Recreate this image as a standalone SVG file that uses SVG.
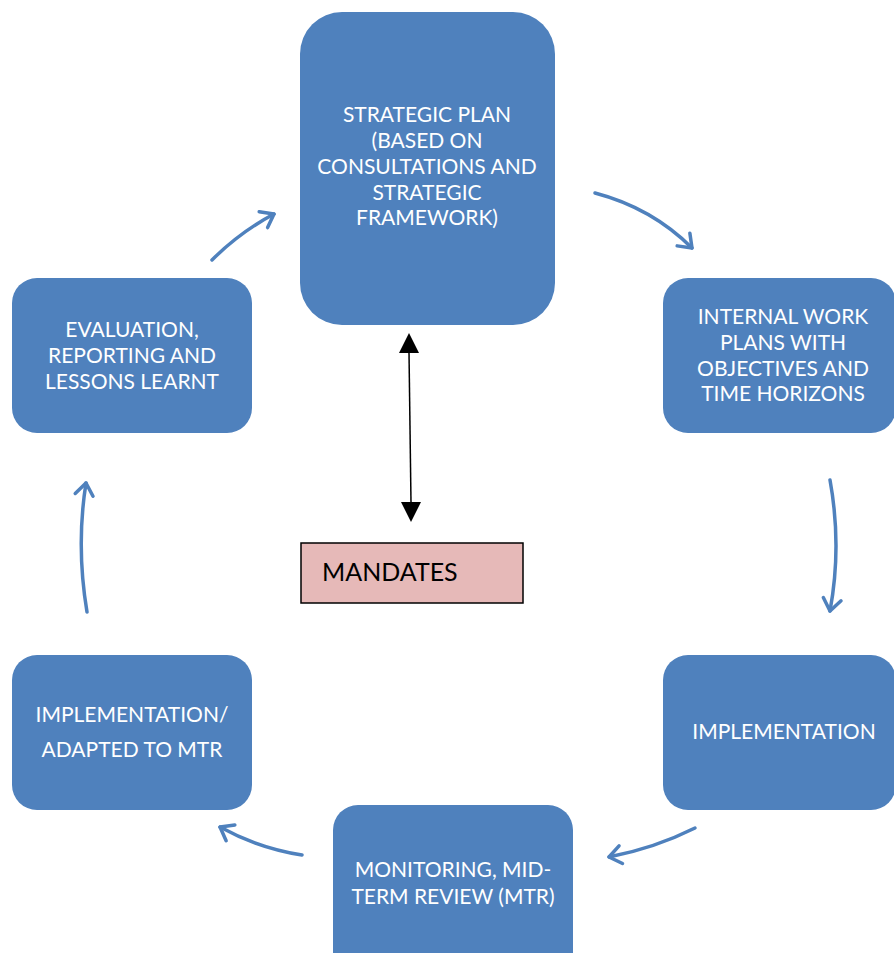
<svg xmlns="http://www.w3.org/2000/svg" width="894" height="953" viewBox="0 0 894 953">
<style>
.box{fill:#4F81BD;}
.t{font-family:Lato,"Open Sans","Liberation Sans",sans-serif;font-size:21px;fill:#ffffff;text-anchor:middle;}
.m{font-family:Lato,"Open Sans","Liberation Sans",sans-serif;font-size:25px;fill:#000000;}
.flow{fill:none;stroke:#4F81BD;stroke-width:3.5;stroke-linecap:round;marker-end:url(#chev);}
</style>
<defs>
<marker id="chev" markerUnits="userSpaceOnUse" markerWidth="30" markerHeight="30" viewBox="-15 -15 30 30" refX="0" refY="0" orient="auto">
<path d="M -12 -9 L 0 0 L -12 9" fill="none" stroke="#4F81BD" stroke-width="3.5" stroke-linecap="round" stroke-linejoin="round"/>
</marker>
</defs>
<rect width="894" height="953" fill="#ffffff"/>
<g id="strategic-plan">
<rect class="box" x="300" y="12" width="255" height="313" rx="42" ry="42"/>
<text class="t" x="427" y="122">STRATEGIC PLAN</text>
<text class="t" x="427" y="148">(BASED ON</text>
<text class="t" x="427" y="174">CONSULTATIONS AND</text>
<text class="t" x="427" y="200">STRATEGIC</text>
<text class="t" x="427" y="225">FRAMEWORK)</text>
</g>
<g id="internal-work-plans">
<rect class="box" x="663" y="278" width="233" height="155" rx="25" ry="25"/>
<text class="t" x="783" y="324">INTERNAL WORK</text>
<text class="t" x="783" y="350">PLANS WITH</text>
<text class="t" x="783" y="376">OBJECTIVES AND</text>
<text class="t" x="783" y="401">TIME HORIZONS</text>
</g>
<g id="implementation">
<rect class="box" x="663" y="655" width="233" height="155" rx="25" ry="25"/>
<text class="t" x="784" y="739">IMPLEMENTATION</text>
</g>
<g id="monitoring">
<rect class="box" x="333" y="805" width="240" height="175" rx="25" ry="25"/>
<text class="t" x="453" y="877">MONITORING, MID-</text>
<text class="t" x="453" y="904">TERM REVIEW (MTR)</text>
</g>
<g id="implementation-adapted">
<rect class="box" x="12" y="655" width="240" height="155" rx="25" ry="25"/>
<text class="t" x="132" y="722">IMPLEMENTATION/</text>
<text class="t" x="132" y="757">ADAPTED TO MTR</text>
</g>
<g id="evaluation">
<rect class="box" x="12" y="278" width="240" height="155" rx="25" ry="25"/>
<text class="t" x="132" y="337">EVALUATION,</text>
<text class="t" x="132" y="363">REPORTING AND</text>
<text class="t" x="132" y="389">LESSONS LEARNT</text>
</g>
<g id="mandates">
<rect x="301" y="543" width="222" height="60" fill="#E6B9B8" stroke="#000000" stroke-width="1.5"/>
<text class="m" x="322" y="581">MANDATES</text>
</g>
<g id="connectors">
<path class="flow" d="M 595 193 Q 652 208 692 248"/>
<path class="flow" d="M 830 480 Q 842 546 830 611"/>
<path class="flow" d="M 695 828 Q 655 848 609 857"/>
<path class="flow" d="M 302 855 Q 258 848 220 827"/>
<path class="flow" d="M 87 612 Q 76 546 86 483"/>
<path class="flow" d="M 212 260 Q 240 232 274 214"/>
<line x1="409" y1="352" x2="411" y2="503" stroke="#000000" stroke-width="1.5"/>
<polygon points="409,333 399,353 419,353" fill="#000000"/>
<polygon points="411,522 401,502 421,502" fill="#000000"/>
</g>
</svg>
